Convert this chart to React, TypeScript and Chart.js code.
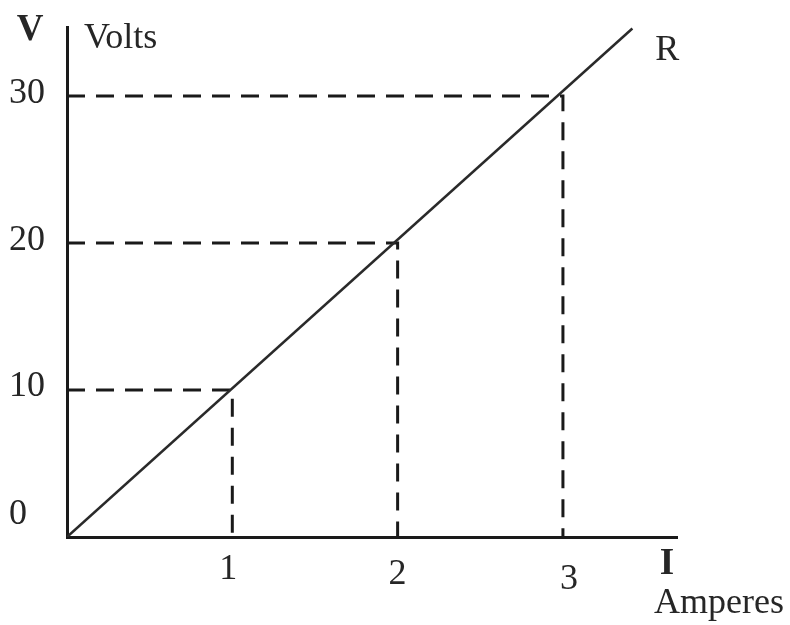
import React, { useEffect, useRef } from "react";
import { Chart, registerables } from "chart.js";

Chart.register(...registerables);

const currents = [1, 2, 3];
const voltages = [10, 20, 30];
const lineCurrents = [0, 3.42];
const lineVoltages = [0, 34.6];
const yTickLabels = ["0", "10", "20", "30"];
const yTickValues = [0, 10, 20, 30];
const xTickLabels = ["1", "2", "3"];

const INK = "#1a1a1a";
const SERIF = "'Liberation Serif', 'DejaVu Serif', serif";

const labelPlugin = {
  id: "labels",
  afterDraw(chart: any) {
    const { ctx, chartArea, scales } = chart;
    const xs = scales.x;
    const ys = scales.y;
    ctx.save();
    ctx.fillStyle = "#262626";
    ctx.textBaseline = "middle";
    ctx.font = `36px ${SERIF}`;
    // y tick labels
    ctx.textAlign = "left";
    yTickValues.forEach((v, i) => {
      const py = ys.getPixelForValue(v) + (v === 0 ? -22 : -3);
      ctx.fillText(yTickLabels[i], chartArea.left - 58, py);
    });
    // x tick labels
    ctx.textAlign = "center";
    currents.forEach((c, i) => {
      ctx.fillText(xTickLabels[i], xs.getPixelForValue(c) + (i === 0 ? -4 : i === 2 ? 6 : 0), chartArea.bottom + 33 + i * 5);
    });
    // axis names
    ctx.font = `bold 37px ${SERIF}`;
    ctx.fillText("V", chartArea.left - 37, chartArea.top + 3);
    ctx.fillText("I", chartArea.right - 10, chartArea.bottom + 27);
    ctx.font = `36px ${SERIF}`;
    ctx.textAlign = "left";
    ctx.fillText("Volts", chartArea.left + 17, chartArea.top + 12);
    ctx.fillText("Amperes", chartArea.right - 23, chartArea.bottom + 67);
    // R label
    const lx = xs.getPixelForValue(lineCurrents[1]);
    const ly = ys.getPixelForValue(lineVoltages[1]);
    ctx.fillText("R", lx + 23, ly + 22);
    ctx.restore();
  },
};

export default function App() {
  const ref = useRef<HTMLCanvasElement>(null);
  useEffect(() => {
    if (!ref.current) return;
    const guides = currents.map((c, i) => ({
      data: [
        { x: 0, y: voltages[i] },
        { x: c, y: voltages[i] },
        { x: c, y: 0 },
      ],
      borderColor: INK,
      borderWidth: 3,
      borderDash: [18, 11],
      pointRadius: 0,
      fill: false,
      tension: 0,
    }));
    const chart = new Chart(ref.current, {
      type: "line",
      data: {
        datasets: [
          {
            data: lineCurrents.map((c, i) => ({ x: c, y: lineVoltages[i] })),
            borderColor: "#2a2a2a",
            borderWidth: 2.5,
            pointRadius: 0,
            fill: false,
          },
          ...guides,
        ],
      },
      options: {
        animation: false,
        responsive: false,
        layout: { padding: { left: 67, right: 113, top: 27, bottom: 88 } },
        plugins: { legend: { display: false }, tooltip: { enabled: false } },
        scales: {
          x: {
            type: "linear",
            min: 0,
            max: 3.69,
            grid: { display: false, drawTicks: false },
            ticks: { display: false },
            border: { display: true, color: INK, width: 3 },
          },
          y: {
            type: "linear",
            min: 0,
            max: 34.7,
            grid: { display: false, drawTicks: false },
            ticks: { display: false },
            border: { display: true, color: INK, width: 3 },
          },
        },
      },
      plugins: [labelPlugin],
    });
    return () => chart.destroy();
  }, []);
  return (
    <div style={{ position: "fixed", left: 0, top: 0, width: 790, height: 625, background: "#fff" }}>
      <canvas ref={ref} width={790} height={625} />
    </div>
  );
}
